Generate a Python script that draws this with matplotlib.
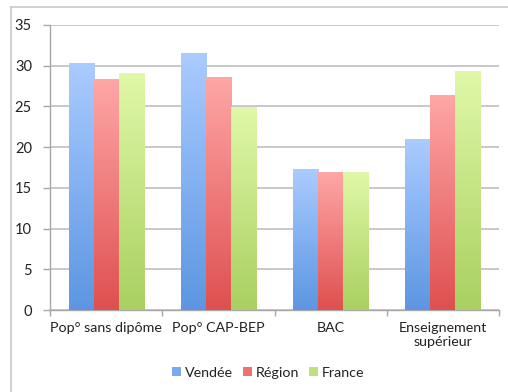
import numpy as np
import matplotlib
matplotlib.use("Agg")
import matplotlib.pyplot as plt
from matplotlib.colors import LinearSegmentedColormap
from matplotlib.patches import Patch
from matplotlib.lines import Line2D

plt.rcParams['font.family'] = ['Lato', 'DejaVu Sans']

categories = ["Pop° sans dipôme", "Pop° CAP-BEP", "BAC", "Enseignement\nsupérieur"]
series = ["Vendée", "Région", "France"]
vendee = [30.3, 31.5, 17.3, 20.9]
region = [28.25, 28.6, 16.9, 26.3]
france = [29.0, 24.9, 16.9, 29.3]
yticks = [0, 5, 10, 15, 20, 25, 30, 35]

# (light top, dark bottom, legend swatch) per series
palettes = [
    ("#aacbff", "#5c96e2", "#7aaaf0"),
    ("#ffa6a6", "#df5050", "#ee7070"),
    ("#e0f8a8", "#a9d060", "#c0e080"),
]

fig = plt.figure(figsize=(5.08, 3.92), dpi=100)
ax = fig.add_axes([50/508, 1-310/392, 449/508, 285/392])

x = np.arange(len(categories))
width = 0.223
grad = np.linspace(0, 1, 128).reshape(-1, 1)
for i, (vals, pal) in enumerate(zip([vendee, region, france], palettes)):
    cmap = LinearSegmentedColormap.from_list(series[i], [pal[1], pal[0]])
    for xi, v in zip(x, vals):
        x0 = xi + (i - 1) * width - width / 2
        ax.imshow(grad, cmap=cmap, aspect='auto', origin='lower',
                  extent=[x0, x0 + width, 0, v], zorder=3, interpolation='bilinear')

ax.set_xlim(-0.5, len(categories) - 0.5)
ax.set_ylim(0, 35)
ax.set_yticks(yticks)
ax.set_xticks(x)
ax.set_xticklabels(categories, fontsize=10.3, linespacing=1.2, color='#222222')
ax.set_xticks(np.arange(-0.5, len(categories)), minor=True)
ax.tick_params(axis='x', which='major', length=0, pad=9)
ax.tick_params(axis='x', which='minor', length=4, color='#a8a8a8', width=1)
ax.tick_params(axis='y', length=5, color='#a8a8a8', width=1, labelsize=10.5,
               labelcolor='#222222', pad=8)
ax.grid(axis='y', color='#c4c4c4', linewidth=1.3, zorder=0)
ax.set_axisbelow(True)
for s in ['top', 'right']:
    ax.spines[s].set_visible(False)
for s in ['left', 'bottom']:
    ax.spines[s].set_color('#a8a8a8')
    ax.spines[s].set_linewidth(1)

handles = [Patch(facecolor=p[2], edgecolor='none') for p in palettes]
leg = fig.legend(handles, series, loc='center', bbox_to_anchor=(268/508, 1-373/392), ncol=3,
                 frameon=False, fontsize=10.3, handlelength=0.65, handleheight=0.6,
                 handletextpad=0.25, columnspacing=0.7)
for t in leg.get_texts():
    t.set_color('#222222')

# chart area frame
fig.add_artist(Line2D([11/508, 1.0], [1-7/392, 1-7/392], color='#c8c8c8', linewidth=1.2,
                      transform=fig.transFigure))
fig.add_artist(Line2D([11/508, 11/508], [0, 1-7/392], color='#c8c8c8', linewidth=1.2,
                      transform=fig.transFigure))

fig.savefig("out.png", dpi=100)
